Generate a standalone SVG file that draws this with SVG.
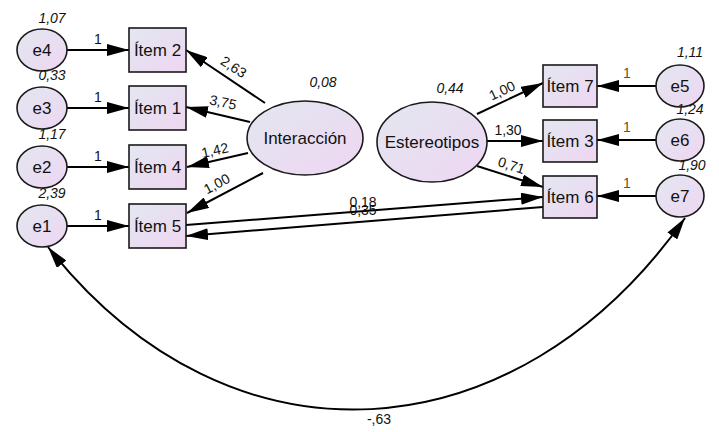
<svg xmlns="http://www.w3.org/2000/svg" width="719" height="432" viewBox="0 0 719 432">
<defs>
<linearGradient id="g" x1="0" y1="0" x2="1" y2="1">
<stop offset="0" stop-color="#e3e7f0"/>
<stop offset="1" stop-color="#eed6f2"/>
</linearGradient>
<marker id="ah" markerUnits="userSpaceOnUse" markerWidth="22" markerHeight="12" refX="22" refY="6" orient="auto-start-reverse" viewBox="0 0 22 12">
<path d="M0,0 L22,6 L0,12 z" fill="#000"/>
</marker>
<style>
.n{fill:url(#g);stroke:#1a1a1a;stroke-width:1.6}
.t{font-family:"Liberation Sans",Arial,sans-serif;font-size:17px;fill:#111;text-anchor:middle}
.v{font-family:"Liberation Sans",Arial,sans-serif;font-size:14px;fill:#111;text-anchor:middle}
.i{font-style:italic}
.o{fill:#6e5018}
.c{fill:none;stroke:#000;stroke-width:2;marker-end:url(#ah)}
.cb{fill:none;stroke:#000;stroke-width:2;marker-end:url(#ah);marker-start:url(#ah)}
</style>
</defs>

<g id="connectors">
<path class="c" d="M67,50 L129,50"/>
<path class="c" d="M67,108 L129,108"/>
<path class="c" d="M67,167 L129,167"/>
<path class="c" d="M67,226 L129,226"/>
<path class="c" d="M265,103 L186,50"/>
<path class="c" d="M250,122 L186,107"/>
<path class="c" d="M248,153 L187,167"/>
<path class="c" d="M263,173 L187,213"/>
<path class="c" d="M186,225 L543,197"/>
<path class="c" d="M543,207 L186,236"/>
<path class="c" d="M477,114 L543,83"/>
<path class="c" d="M487,141 L543,141"/>
<path class="c" d="M477,166 L543,187"/>
<path class="c" d="M656,86 L597,86"/>
<path class="c" d="M656,140 L597,140"/>
<path class="c" d="M656,196 L597,196"/>
<path class="cb" d="M48,247 C230,478 516,458 685,218"/>
<text class="v" x="98" y="44">1</text>
<text class="v" x="98" y="102">1</text>
<text class="v" x="98" y="161">1</text>
<text class="v" x="98" y="220">1</text>
<text class="v o" x="627" y="78">1</text>
<text class="v o" x="627" y="132">1</text>
<text class="v o" x="627" y="188">1</text>
<text class="v" x="231" y="71" transform="rotate(33 231 71)">2,63</text>
<text class="v" x="222" y="107" transform="rotate(12 222 107)">3,75</text>
<text class="v" x="216" y="155" transform="rotate(-13 216 155)">1,42</text>
<text class="v" x="219" y="188" transform="rotate(-28 219 188)">1,00</text>
<text class="v" x="504" y="95" transform="rotate(-25 504 95)">1,00</text>
<text class="v" x="508" y="135">1,30</text>
<text class="v" x="510" y="170" transform="rotate(18 510 170)">0,71</text>
<text class="v" x="363" y="207">0,18</text>
<text class="v" x="363" y="215">0,35</text>
<text class="v" x="379" y="424">-,63</text>
</g>

<g id="e4"><ellipse class="n" cx="42" cy="50" rx="25" ry="21"/><text class="t" x="42" y="56">e4</text><text class="v i" x="52" y="23">1,07</text></g>
<g id="e3"><ellipse class="n" cx="42" cy="108" rx="25" ry="21"/><text class="t" x="42" y="114">e3</text><text class="v i" x="52" y="80">0,33</text></g>
<g id="e2"><ellipse class="n" cx="42" cy="167" rx="25" ry="21"/><text class="t" x="42" y="173">e2</text><text class="v i" x="52" y="139">1,17</text></g>
<g id="e1"><ellipse class="n" cx="42" cy="226" rx="25" ry="21"/><text class="t" x="42" y="232">e1</text><text class="v i" x="52" y="198">2,39</text></g>

<g id="item2"><rect class="n" x="129" y="28" width="57" height="44"/><text class="t" x="157.5" y="56">Ítem 2</text></g>
<g id="item1"><rect class="n" x="129" y="86" width="57" height="44"/><text class="t" x="157.5" y="114">Ítem 1</text></g>
<g id="item4"><rect class="n" x="129" y="145" width="57" height="44"/><text class="t" x="157.5" y="173">Ítem 4</text></g>
<g id="item5"><rect class="n" x="129" y="204" width="57" height="44"/><text class="t" x="157.5" y="232">Ítem 5</text></g>

<g id="interaccion"><ellipse class="n" cx="305" cy="138" rx="58" ry="37"/><text class="t" x="305" y="144">Interacción</text><text class="v i" x="323" y="87">0,08</text></g>
<g id="estereotipos"><ellipse class="n" cx="432" cy="142" rx="55" ry="40"/><text class="t" x="432" y="148">Estereotipos</text><text class="v i" x="450" y="93">0,44</text></g>

<g id="item7"><rect class="n" x="543" y="65" width="54" height="42"/><text class="t" x="570" y="92">Ítem 7</text></g>
<g id="item3"><rect class="n" x="543" y="120" width="54" height="42"/><text class="t" x="570" y="147">Ítem 3</text></g>
<g id="item6"><rect class="n" x="543" y="176" width="54" height="42"/><text class="t" x="570" y="203">Ítem 6</text></g>

<g id="e5"><ellipse class="n" cx="680" cy="86" rx="24" ry="21"/><text class="t" x="680" y="92">e5</text><text class="v i" x="690" y="57">1,11</text></g>
<g id="e6"><ellipse class="n" cx="680" cy="140" rx="24" ry="21"/><text class="t" x="680" y="146">e6</text><text class="v i" x="690" y="114">1,24</text></g>
<g id="e7"><ellipse class="n" cx="680" cy="196" rx="24" ry="21"/><text class="t" x="680" y="202">e7</text><text class="v i" x="692" y="170">1,90</text></g>
</svg>
